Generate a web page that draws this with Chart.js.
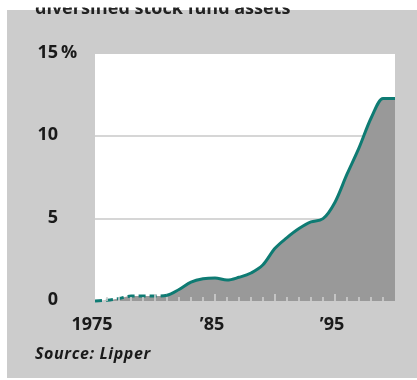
<!DOCTYPE html>
<html>
<head>
<meta charset="utf-8">
<script src="https://cdn.jsdelivr.net/npm/chart.js@4"></script>
<style>
  html, body { margin: 0; padding: 0; background: #ffffff; }
  #wrap { position: relative; width: 417px; height: 380px; }
</style>
</head>
<body>
<div id="wrap"><canvas id="c" width="417" height="380"></canvas></div>
<script>
// ---- data ----
const titleText = "diversified stock fund assets";
const sourceText = "Source: Lipper";
const years = [1975, 1976, 1977, 1978, 1979, 1980, 1981, 1982, 1983, 1984, 1985, 1986, 1987,
               1988, 1989, 1990, 1991, 1992, 1993, 1994, 1995, 1996, 1997, 1998, 1999, 2000];
const shares = [0, 0.05, 0.15, 0.3, 0.3, 0.3, 0.35, 0.7, 1.15, 1.35, 1.4, 1.27, 1.44,
                1.7, 2.2, 3.2, 3.85, 4.4, 4.8, 5.0, 6.0, 7.7, 9.3, 11.1, 12.3, 12.3];
const estimatedUntil = 1981;          // dashed (estimated) portion ends here
const yTickValues = [0, 5, 10, 15];
const yTickLabels = ["0", "5", "10", "15"];
const xTickValues = [1975, 1985, 1995];
const xTickLabels = ["1975", "\u201985", "\u201995"];

const FONT = "'Open Sans', 'Liberation Sans', sans-serif";

const decor = {
  id: 'decor',
  beforeDraw(chart) {
    const ctx = chart.ctx, a = chart.chartArea, y = chart.scales.y;
    ctx.save();
    ctx.fillStyle = '#ffffff';
    ctx.fillRect(0, 0, chart.width, chart.height);
    ctx.fillStyle = '#cccccc';
    ctx.fillRect(7, 10, 410, 368);
    // clipped title (only the lower part is visible)
    ctx.save();
    ctx.beginPath();
    ctx.rect(0, 7.5, chart.width, 10);
    ctx.clip();
    ctx.fillStyle = '#222222';
    ctx.font = "bold 18px " + FONT;
    ctx.textBaseline = 'alphabetic';
    ctx.textAlign = 'left';
    ctx.fillText(titleText, 35, 13.5);
    ctx.restore();
    // plot area
    ctx.fillStyle = '#ffffff';
    ctx.fillRect(a.left, a.top, a.right - a.left, a.bottom - a.top);
    // gridlines
    ctx.strokeStyle = '#d6d6d6';
    ctx.lineWidth = 2;
    [5, 10].forEach(v => {
      const py = Math.round(y.getPixelForValue(v));
      ctx.beginPath();
      ctx.moveTo(a.left, py);
      ctx.lineTo(a.right, py);
      ctx.stroke();
    });
    ctx.restore();
  },
  afterDatasetsDraw(chart) {
    const ctx = chart.ctx, a = chart.chartArea, x = chart.scales.x, y = chart.scales.y;
    ctx.save();
    // year ticks inside plot
    ctx.strokeStyle = '#cfcfcf';
    ctx.lineWidth = 1.6;
    for (let yr = 1976; yr < 2000; yr++) {
      const px = x.getPixelForValue(yr);
      const h = (yr % 5 === 0) ? 7 : 4;
      ctx.beginPath();
      ctx.moveTo(px, a.bottom);
      ctx.lineTo(px, a.bottom - h);
      ctx.stroke();
    }
    // y labels
    ctx.fillStyle = '#1a1a1a';
    ctx.font = "bold 18px " + FONT;
    ctx.textBaseline = 'middle';
    yTickValues.forEach((v, i) => {
      const py = y.getPixelForValue(v) - 1;
      ctx.textAlign = 'right';
      ctx.fillText(yTickLabels[i], 58, py);
      if (v === 15) {
        ctx.textAlign = 'left';
        ctx.fillText('%', 61, py);
      }
    });
    // x labels
    ctx.textAlign = 'center';
    xTickValues.forEach((v, i) => {
      const px = x.getPixelForValue(v) - 3;
      ctx.fillText(xTickLabels[i], px, 325);
    });
    // source
    ctx.textAlign = 'left';
    ctx.font = "italic bold 16px " + FONT;
    try { ctx.letterSpacing = '0.6px'; } catch (e) {}
    ctx.fillText(sourceText, 35, 354);
    ctx.restore();
  }
};

new Chart(document.getElementById('c'), {
  type: 'line',
  data: {
    labels: years,
    datasets: [{
      data: years.map((yr, i) => ({ x: yr, y: shares[i] })),
      borderColor: '#0e7b73',
      borderWidth: 3,
      backgroundColor: '#999999',
      fill: 'origin',
      pointRadius: 0,
      tension: 0,
      cubicInterpolationMode: 'monotone',
      borderCapStyle: 'butt',
      borderJoinStyle: 'round',
      clip: { left: 0, top: 0, right: 0, bottom: 3 },
      segment: {
        borderDash: c => (c.p0.parsed.x < estimatedUntil ? [7, 4] : undefined)
      }
    }]
  },
  options: {
    responsive: false,
    animation: false,
    devicePixelRatio: 1,
    layout: { padding: { left: 95, right: 22, top: 54, bottom: 79 } },
    plugins: { legend: { display: false }, tooltip: { enabled: false } },
    scales: {
      x: { type: 'linear', min: 1975, max: 2000, display: false },
      y: { min: 0, max: 15, display: false }
    }
  },
  plugins: [decor]
});
</script>
</body>
</html>
